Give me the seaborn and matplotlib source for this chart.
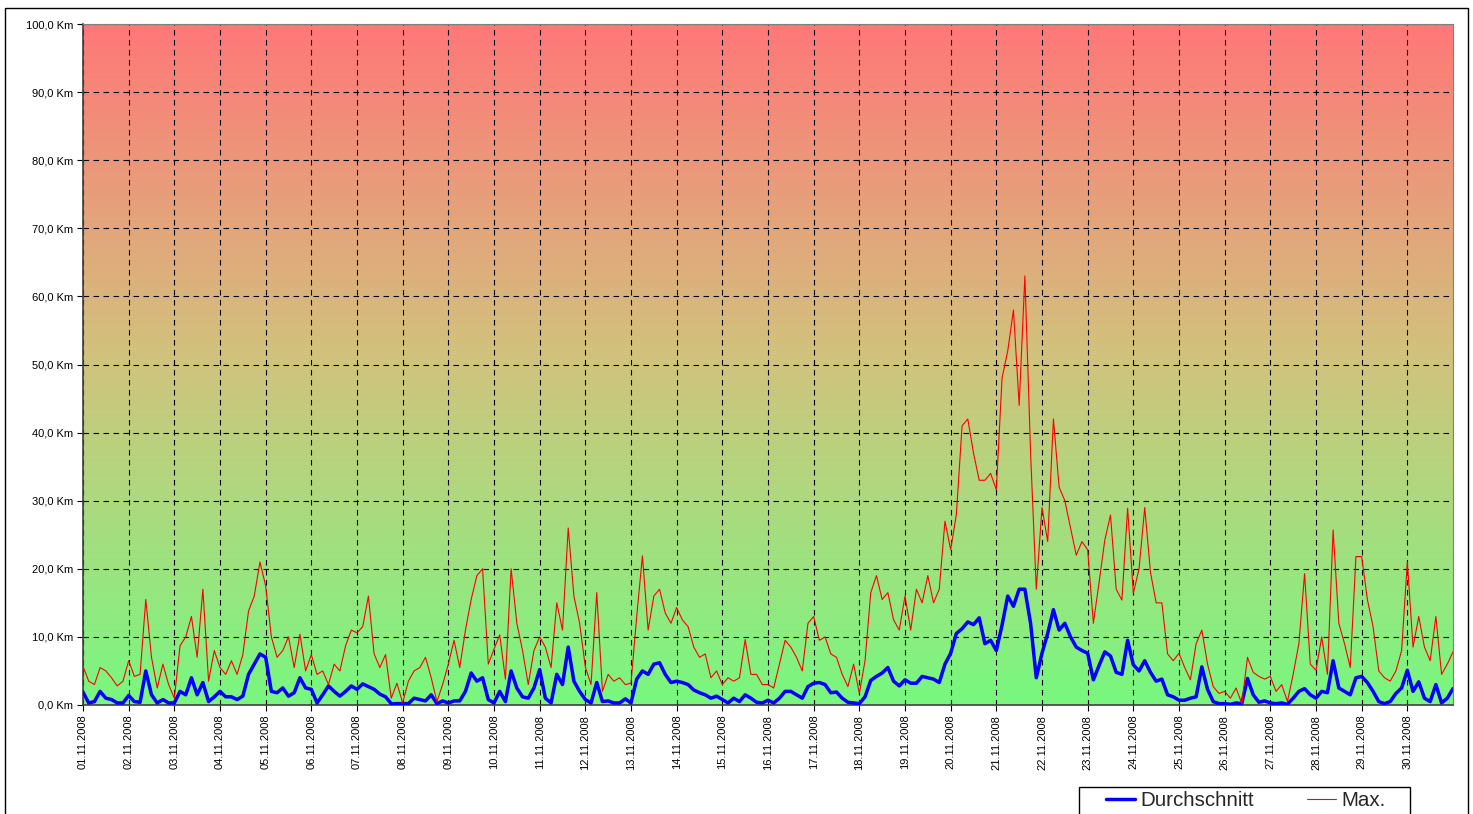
import numpy as np
import pandas as pd
import matplotlib
matplotlib.use("Agg")
import matplotlib.pyplot as plt
import seaborn as sns
from matplotlib.patches import Rectangle

# ---- data: 3-hourly samples, 01.11.2008 00:00 .. 01.12.2008 00:00 ----
avg_km = [
    1.9, 0.3, 0.5, 2.0, 1.0, 0.8, 0.3, 0.3,
    1.4, 0.5, 0.4, 5.0, 1.5, 0.3, 0.8, 0.3,
    0.3, 2.0, 1.5, 4.0, 1.5, 3.3, 0.5, 1.2,
    2.0, 1.2, 1.2, 0.8, 1.3, 4.5, 6.0, 7.5,
    7.0, 2.0, 1.8, 2.5, 1.3, 1.8, 4.0, 2.5,
    2.3, 0.3, 1.5, 2.8, 2.0, 1.3, 2.0, 2.8,
    2.3, 3.1, 2.7, 2.3, 1.6, 1.2, 0.2, 0.2,
    0.2, 0.2, 1.0, 0.8, 0.6, 1.5, 0.2, 0.6,
    0.3, 0.6, 0.6, 2.0, 4.7, 3.5, 4.0, 0.8,
    0.3, 2.0, 0.5, 5.0, 2.5, 1.2, 1.0, 2.5,
    5.2, 1.0, 0.3, 4.5, 3.0, 8.5, 3.5, 2.0,
    0.8, 0.3, 3.3, 0.5, 0.6, 0.3, 0.3, 0.9,
    0.3, 3.8, 5.0, 4.5, 6.0, 6.2, 4.5, 3.3,
    3.5, 3.3, 3.0, 2.2, 1.8, 1.5, 1.0, 1.3,
    0.8, 0.3, 1.0, 0.5, 1.5, 1.0, 0.4, 0.3,
    0.7, 0.3, 1.0, 2.0, 2.0, 1.5, 1.0, 2.7,
    3.2, 3.3, 3.0, 1.8, 1.9, 1.0, 0.4, 0.3,
    0.2, 1.2, 3.6, 4.2, 4.7, 5.5, 3.5, 2.8,
    3.7, 3.2, 3.2, 4.2, 4.0, 3.8, 3.3, 6.0,
    7.6, 10.5, 11.2, 12.2, 11.8, 12.8, 9.0, 9.5,
    8.0, 11.7, 16.0, 14.5, 17.0, 17.0, 12.0, 4.0,
    7.6, 10.5, 14.0, 11.0, 12.0, 10.0, 8.5, 8.0,
    7.6, 3.7, 5.8, 7.8, 7.2, 4.8, 4.5, 9.5,
    5.9, 5.0, 6.5, 4.8, 3.5, 3.8, 1.5, 1.2,
    0.7, 0.7, 1.0, 1.2, 5.6, 2.3, 0.5, 0.2,
    0.2, 0.1, 0.3, 0.2, 3.9, 1.5, 0.4, 0.6,
    0.3, 0.2, 0.3, 0.1, 1.0, 2.0, 2.4, 1.5,
    1.0, 2.0, 1.8, 6.5, 2.5, 2.0, 1.5, 4.0,
    4.2, 3.3, 2.0, 0.5, 0.2, 0.5, 1.7, 2.5,
    5.1, 2.0, 3.4, 1.0, 0.5, 3.0, 0.3, 1.0,
    2.4,
]

max_km = [
    5.7, 3.5, 3.0, 5.5, 5.0, 4.0, 2.8, 3.5,
    6.5, 4.2, 4.5, 15.5, 7.0, 2.5, 6.0, 3.0,
    1.0, 8.7, 10.0, 13.0, 7.0, 17.0, 3.5, 8.0,
    5.5, 4.5, 6.5, 4.5, 7.4, 13.8, 16.0, 21.0,
    17.5, 10.0, 7.0, 8.0, 10.0, 5.5, 10.4, 5.0,
    7.4, 4.5, 5.0, 3.0, 6.0, 5.0, 8.7, 11.0,
    10.6, 11.5, 16.0, 7.5, 5.5, 7.4, 1.0, 3.2,
    0.3, 3.5, 5.0, 5.5, 7.0, 4.0, 0.5, 3.0,
    6.0, 9.5, 5.5, 11.0, 15.5, 19.0, 20.0, 6.0,
    8.2, 10.3, 3.8, 20.0, 12.0, 8.0, 3.0, 8.0,
    10.0, 8.5, 5.5, 15.0, 11.0, 26.0, 16.0, 12.0,
    5.6, 3.0, 16.5, 2.0, 4.5, 3.5, 4.0, 3.0,
    3.2, 13.0, 21.9, 11.0, 16.0, 17.0, 13.5, 12.0,
    14.3, 12.5, 11.5, 8.5, 7.0, 7.5, 4.0, 5.0,
    3.0, 4.0, 3.5, 4.0, 9.6, 4.5, 4.5, 3.0,
    3.0, 2.5, 6.0, 9.5, 8.5, 7.0, 5.0, 12.0,
    13.0, 9.5, 10.0, 7.5, 7.0, 4.5, 2.7, 6.0,
    1.7, 6.5, 16.5, 19.0, 15.5, 16.5, 12.5, 11.0,
    16.0, 11.0, 17.0, 15.0, 19.0, 15.0, 17.0, 27.0,
    22.8, 28.0, 41.0, 42.0, 37.0, 33.0, 33.0, 34.0,
    31.6, 48.0, 52.0, 58.0, 44.0, 63.0, 37.0, 17.0,
    29.0, 24.0, 42.0, 32.0, 30.0, 26.0, 22.0, 24.0,
    22.8, 12.0, 18.0, 24.2, 27.9, 17.0, 15.4, 28.9,
    16.4, 20.0, 29.0, 19.5, 15.0, 15.0, 7.5, 6.5,
    7.6, 5.5, 3.7, 9.0, 11.0, 6.0, 2.7, 1.7,
    2.0, 1.0, 2.5, 0.2, 7.0, 4.8, 4.2, 3.8,
    4.2, 2.0, 3.0, 0.5, 4.5, 9.0, 19.3, 6.0,
    5.1, 10.0, 4.5, 25.7, 12.0, 9.0, 5.5, 21.8,
    21.8, 15.5, 11.5, 5.0, 4.0, 3.5, 5.0, 8.0,
    21.0, 8.5, 13.0, 8.5, 6.5, 13.0, 4.5, 6.0,
    7.8,
]

day_labels = [f"{d:02d}.11.2008" for d in range(1, 31)]
y_ticks = [0, 10, 20, 30, 40, 50, 60, 70, 80, 90, 100]
y_tick_labels = [f"{v},0 Km" for v in y_ticks]

series_names = ["Durchschnitt", "Max."]

# ---- build frame ----
n = len(avg_km)
t_days = np.arange(n) / 8.0
df = pd.DataFrame({"t": t_days, "Durchschnitt": avg_km, "Max.": max_km})

sns.set_theme(style="white")
plt.rcParams["font.family"] = ["Liberation Sans", "DejaVu Sans"]

W, H = 1473, 814
fig = plt.figure(figsize=(W / 100, H / 100), dpi=100)
ax = fig.add_axes([83 / W, 1 - 705 / H, (1453 - 83) / W, (705 - 24) / H])

# gradient background (red top -> green bottom)
top = np.array([255, 120, 120]) / 255
mid = np.array([208, 196, 125]) / 255
bot = np.array([120, 248, 128]) / 255
f = np.linspace(0, 1, 256)[:, None]
grad = np.where(f < 0.5, top + (mid - top) * (f / 0.5), mid + (bot - mid) * ((f - 0.5) / 0.5))
ax.imshow(grad[:, None, :], extent=[0, 30, 0, 100], aspect="auto", zorder=0, interpolation="bilinear")

sns.lineplot(data=df, x="t", y="Durchschnitt", ax=ax, color="#0000FF", linewidth=2.5,
             label=series_names[0], zorder=3)
sns.lineplot(data=df, x="t", y="Max.", ax=ax, color="#FF0000", linewidth=0.8,
             label=series_names[1], zorder=4)

ax.set_xlim(0, 30)
ax.set_ylim(0, 100)
ax.set_xticks(np.arange(30))
ax.set_xticklabels(day_labels, rotation=90, fontsize=8)
ax.set_yticks(y_ticks)
ax.set_yticklabels(y_tick_labels, fontsize=8)
ax.set_xlabel("")
ax.set_ylabel("")
ax.tick_params(axis="both", which="major", direction="out", length=4, width=0.8,
               colors="#000000", bottom=True, left=True, pad=3)

ax.set_axisbelow(True)
ax.grid(True, which="major", axis="both", color="#000000", linestyle=(0, (5, 4)), linewidth=0.8)

for side in ["left", "bottom"]:
    ax.spines[side].set_color("#404040")
    ax.spines[side].set_linewidth(1.2)
for side in ["top", "right"]:
    ax.spines[side].set_color("#808080")
    ax.spines[side].set_linewidth(0.8)

ax.get_legend().remove()
handles, labels = ax.get_legend_handles_labels()
leg = fig.legend(handles, labels, loc="center left", bbox_to_anchor=(1106 / W, 1 - 801 / H),
                 ncol=2, frameon=False, fontsize=14.8,
                 handlelength=1.4, columnspacing=2.6, borderpad=0.0, handletextpad=0.25,
                 borderaxespad=0)

# legend box (cut by the bottom edge, as in the original)
fig.patches.append(Rectangle((1079 / W, -0.01), (1410 - 1079) / W, 1 - 787 / H + 0.01,
                             transform=fig.transFigure, fill=True, facecolor="white",
                             edgecolor="#000000", linewidth=1.0, zorder=-0.5))

# figure border
fig.patches.append(Rectangle((5 / W, -0.01), (1468 - 5) / W, 1 - 8 / H + 0.01,
                             transform=fig.transFigure, fill=False, edgecolor="#000000",
                             linewidth=1.0, zorder=-1))

fig.savefig("out.png", dpi=100, facecolor="white")
